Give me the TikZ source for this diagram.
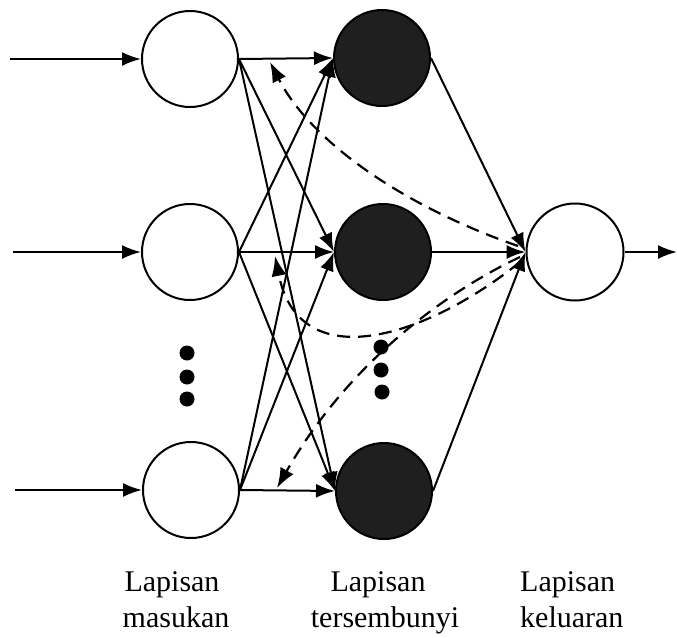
\documentclass[tikz,border=0pt]{standalone}
\usepackage{fontspec}
\setmainfont{Liberation Serif}
\usetikzlibrary{arrows.meta}
\begin{document}
\begin{tikzpicture}[x=1pt,y=-1pt,
  inp/.style={circle,draw,line width=2pt,minimum size=96pt,inner sep=0pt,fill=white},
  hid/.style={circle,draw,line width=2pt,minimum size=96pt,inner sep=0pt,fill=black!88},
  conn/.style={line width=2pt,-{Latex[length=19pt,width=14pt]}},
  back/.style={line width=2.2pt,dash pattern=on 13pt off 8pt,-{Latex[length=20pt,width=15pt]}},
  lbl/.style={font=\fontsize{30}{36}\selectfont,inner sep=0pt},
  bigdot/.style={circle,fill=black,minimum size=15pt,inner sep=0pt}]
\useasboundingbox (0,0) rectangle (677,637);

% input layer
\node[inp] (i1) at (190,59) {};
\node[inp] (i2) at (190,252) {};
\node[inp] (i3) at (191,490) {};
% hidden layer
\node[hid] (h1) at (382,58) {};
\node[hid] (h2) at (383,252) {};
\node[hid] (h3) at (384,491) {};
% output layer
\node[inp,minimum size=97pt] (o) at (575,252) {};

% dots
\node[bigdot] (d1) at (187,353) {};
\node[bigdot] (d2) at (187,377) {};
\node[bigdot] (d3) at (187,399) {};
\node[bigdot] (e1) at (381,347) {};
\node[bigdot] (e2) at (381,370) {};
\node[bigdot] (e3) at (382,392) {};

% free ends
\coordinate (a1) at (10,59);
\coordinate (a2) at (13,252);
\coordinate (a3) at (15,490);
\coordinate (z) at (677,252);

\draw[conn] (a1) -- (i1.west);
\draw[conn] (a2) -- (i2.west);
\draw[conn] (a3) -- (i3.west);

\foreach \i in {1,2,3}{
  \foreach \h in {1,2,3}{
    \draw[conn] (i\i.east) -- (h\h.west);
  }
  \draw[conn] (h\i.east) -- (o.west);
}
\draw[conn] (o.east) -- (z);

% backward (dashed) arrows
\coordinate (s1) at (518,246);
\coordinate (s2) at (520,262);
\coordinate (s3) at (520,257);
\coordinate (t1) at (270,62);
\coordinate (t2) at (275,256);
\coordinate (t3) at (277,488);
\draw[back] (s1) .. controls (400,205) and (310,140) .. (t1);
\draw[back] (s2) .. controls (430,335) and (300,380) .. (t2);
\draw[back] (s3) .. controls (450,290) and (350,360) .. (t3);

% labels
\node[lbl,anchor=base] (l1a) at (172,591) {Lapisan};
\node[lbl,anchor=base] (l1b) at (176,627) {masukan};
\node[lbl,anchor=base] (l2a) at (378,591) {Lapisan};
\node[lbl,anchor=base] (l2b) at (385,627) {tersembunyi};
\node[lbl,anchor=base west] (l3a) at (520,591) {Lapisan};
\node[lbl,anchor=base west] (l3b) at (520,627) {keluaran};
\end{tikzpicture}
\end{document}
